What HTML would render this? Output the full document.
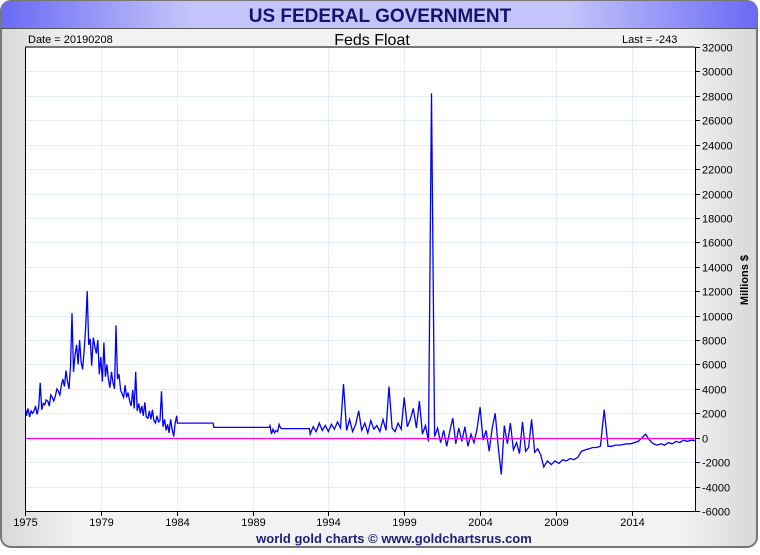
<!DOCTYPE html>
<html><head><meta charset="utf-8"><style>
html,body{margin:0;padding:0;background:#fff;}
body{width:760px;height:550px;overflow:hidden;font-family:"Liberation Sans",sans-serif;}
</style></head><body>
<svg width="760" height="550" xmlns="http://www.w3.org/2000/svg" font-family="Liberation Sans, sans-serif">
<defs>
<linearGradient id="hdr" x1="0" x2="1" y1="0" y2="0">
<stop offset="0" stop-color="#6a6af5"/><stop offset="0.25" stop-color="#c4c4fa"/><stop offset="0.75" stop-color="#c4c4fa"/><stop offset="1" stop-color="#6a6af5"/></linearGradient>
<linearGradient id="bg" x1="0" x2="1" y1="0" y2="0">
<stop offset="0" stop-color="#d8d8d8"/><stop offset="0.1" stop-color="#f2f2f2"/><stop offset="0.9" stop-color="#f2f2f2"/><stop offset="1" stop-color="#d8d8d8"/></linearGradient>
<clipPath id="plotclip"><rect x="25" y="47" width="670" height="464"/></clipPath>
</defs>
<rect x="1" y="1" width="756" height="546" rx="10" fill="url(#bg)" stroke="#777" stroke-width="2"/>
<path d="M1,28 L1,11 Q1,1 11,1 L747,1 Q757,1 757,11 L757,28 Z" fill="url(#hdr)"/>
<line x1="1" y1="28.5" x2="757" y2="28.5" stroke="#555"/>
<text x="380" y="22" text-anchor="middle" font-size="19" font-weight="bold" fill="#141470">US FEDERAL GOVERNMENT</text>
<text x="28" y="43" font-size="11" fill="#000">Date = 20190208</text>
<text x="372" y="45" text-anchor="middle" font-size="16" fill="#000">Feds Float</text>
<text x="622" y="43" font-size="11" fill="#000">Last = -243</text>
<rect x="25" y="47" width="670" height="464" fill="#fff"/>
<g id="grid"></g>
<g id="marks" clip-path="url(#plotclip)"></g>
<line x1="25" y1="47" x2="695" y2="47" stroke="#000"/>
<line x1="25.5" y1="47" x2="25.5" y2="511" stroke="#000"/>
<line x1="695.5" y1="47" x2="695.5" y2="512" stroke="#000"/>
<line x1="25" y1="511.5" x2="696" y2="511.5" stroke="#000"/>
<g id="axes"></g>
<text x="748" y="280" text-anchor="middle" font-size="11" font-weight="bold" transform="rotate(-90 748 280)">Millions $</text>
<text x="394" y="543" text-anchor="middle" font-size="13" font-weight="bold" fill="#1e1e78">world gold charts © www.goldchartsrus.com</text>
</svg>
<script>
const yTicks=[-6000,-4000,-2000,0,2000,4000,6000,8000,10000,12000,14000,16000,18000,20000,22000,24000,26000,28000,30000,32000];
const xTickYears=[1974,1979,1984,1989,1994,1999,2004,2009,2014];
const xTickLabels=["1975","1979","1984","1989","1994","1999","2004","2009","2014"];
// series segments: start year, step (years), values (millions $)
const segStarts=[1974.0,1984.05,1986.45,1990.15,1990.95,1992.8,2008.2];
const segSteps=[0.1,2.35,3.65,0.1,1.8,0.2,0.249];
const seg1970s=[2600,1800,2400,1700,2200,2000,2200,2600,1900,2500,
4500,2300,2800,2700,3100,3000,2600,3500,3300,3000,
3400,4000,3800,3500,4300,4800,4200,5500,4600,4000,
5800,10200,5400,6800,7600,6000,8000,6200,5600,7200,
9100,12000,7600,8100,5900,8200,7500,6900,8000,5200,
6600,4600,7800,5000,6000,4800,4100,5400,4500,4000,
9200,4800,5200,3900,3600,3300,4300,3300,3700,3000,
2600,3900,2400,5400,2200,2800,2000,2600,1800,2900,
1700,1600,2200,1500,2300,1400,1200,1800,1300,1400,
3800,900,1500,600,1100,400,1500,700,100,1200,1800];
const segFlat1=[1200,1200];
const segFlat2=[850,850];
const seg1990=[1000,300,700,400,600,500,1100,800];
const segFlat3=[750,750];
const seg1990s2000s=[300,900,500,1200,600,1000,500,1100,700,1300,
800,4400,600,1500,500,1100,2200,600,1200,400,
1400,700,1000,500,1500,600,4200,800,500,1200,
700,3300,900,1500,2400,800,3000,300,1000,-300,
28200,100,800,-400,600,-700,500,1600,-500,800,
-300,900,-700,300,-400,700,2500,-200,600,-1100,
800,2000,-800,-3000,1000,-500,1200,-1000,-400,-1300,
1300,-1100,-800,1500,-1200,-900,-1400];
const seg2008on=[-2400,-1900,-2200,-1900,-2100,-1800,-1900,-1700,-1800,-1600,
-1100,-1000,-900,-800,-800,-700,2300,-700,-700,-600,
-600,-550,-500,-500,-400,-300,0,300,-200,-500,
-600,-500,-600,-400,-500,-300,-400,-200,-300,-200,-243];
const segValues=[seg1970s,segFlat1,segFlat2,seg1990,segFlat3,seg1990s2000s,seg2008on];

const X0=25,X1=695,T0=1974,T1=2018.17,Y0=511,Y1=47,V0=-6000,V1=32000;
const xs=t=>X0+(t-T0)/(T1-T0)*(X1-X0);
const ys=v=>Y0-(v-V0)/(V1-V0)*(Y0-Y1);
const NS="http://www.w3.org/2000/svg";
const grid=document.getElementById('grid'),axes=document.getElementById('axes'),marks=document.getElementById('marks');
function mk(tag,attrs,parent){const e=document.createElementNS(NS,tag);for(const k in attrs)e.setAttribute(k,attrs[k]);parent.appendChild(e);return e;}
yTicks.forEach(v=>{
  const y=Math.round(ys(v))+0.5;
  const g=mk('line',{x1:X0,x2:X1,y1:y,y2:y,stroke:'#e3eef8'},grid);
  
  
  const tk=mk('line',{x1:695,x2:700,y1:y,y2:y,stroke:'#000'},axes);
  
  
  const t=mk('text',{x:702,y:y+4,'font-size':11},axes);t.textContent=v;
  
  
});
xTickYears.forEach((yr,i)=>{
  const x=Math.round(xs(yr))+0.5;
  const g=mk('line',{x1:x,x2:x,y1:Y1,y2:Y0,stroke:'#e3eef8'},grid);
  
  
  const tk=mk('line',{x1:x,x2:x,y1:511,y2:516,stroke:'#000'},axes);
  
  
  const t=mk('text',{x:x,y:526,'font-size':11,'text-anchor':'middle'},axes);t.textContent=xTickLabels[i];
  
  
});
let d='',first=true;
segValues.forEach((vals,s)=>{
  vals.forEach((v,i)=>{
    const t=segStarts[s]+i*segSteps[s];
    d+=(first?'M':'L')+xs(t).toFixed(1)+','+ys(v).toFixed(1);
    first=false;
  });
});
const p=mk('path',{d:d,fill:'none',stroke:'#0000ff','stroke-width':1.3,'stroke-linejoin':'miter'},marks);


const z=Math.round(ys(0))+0.5;
const zl=mk('line',{x1:X0,x2:X1,y1:z,y2:z,stroke:'#ff00ff','stroke-width':1.2},marks);


</script>
</body></html>
